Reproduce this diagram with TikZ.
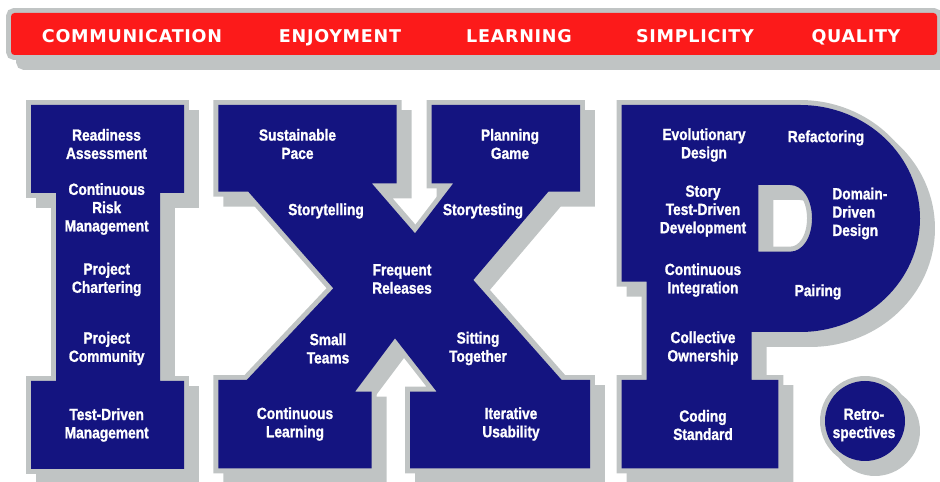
\documentclass[tikz,border=0pt]{standalone}
\usepackage{fontspec}
\newfontfamily\lblfont{Liberation Sans}[FakeStretch=0.85, BoldFeatures={FakeBold=1.2}]
\newfontfamily\banfont{DejaVu Sans}[LetterSpace=4]
\definecolor{xpnavy}{RGB}{20,20,128}
\definecolor{xpred}{RGB}{252,26,26}
\definecolor{xpgray}{RGB}{192,196,196}
\def\Ishape{(31,105) -- (184,105) -- (184,193) -- (160,193) -- (160,381) -- (184,381) -- (184,469) -- (31,469) -- (31,381) -- (56,381) -- (56,193) -- (31,193) -- cycle}
\def\Xshape{(218.3,105) -- (396.7,105) -- (396.7,183.3) -- (371.7,183.3) -- (415,233.3) -- (453.3,183.3) -- (431.7,183.3) -- (431.7,105) -- (580,105) -- (580,191.7) -- (548.3,191.7) -- (473.3,280) -- (561.7,380) -- (590,380) -- (590,468.3) -- (410,468.3) -- (410,391.7) -- (436.7,391.7) -- (395,338.3) -- (355,391.7) -- (371.7,391.7) -- (371.7,468.3) -- (218.3,468.3) -- (218.3,380) -- (246.7,380) -- (333.3,288.3) -- (248.3,191.7) -- (218.3,191.7) -- cycle}
\def\Pshape{(621.7,105) -- (800,105) .. controls (866.3,105) and (920,155.8) .. (920,218.5) .. controls (920,281.2) and (866.3,332) .. (800,332) -- (751.7,332) -- (751.7,380) -- (778.3,380) -- (778.3,468.3) -- (621.7,468.3) -- (621.7,380) -- (646.7,380) -- (646.7,281.7) -- (621.7,281.7) -- cycle
 (758.3,185) -- (790,185) .. controls (803,185) and (812,200) .. (812,218.3) .. controls (812,237) and (803,251.7) .. (790,251.7) -- (758.3,251.7) -- cycle}
\def\Dotshape{(865,421) circle[radius=40]}
\def\Banshape{(11,13) rectangle (937,55)}
\begin{document}
\begin{tikzpicture}[x=0.02cm,y=-0.02cm,
  shadowfill/.style={fill=xpgray, draw=xpgray, line width=5.67pt, shift={(10,10)}, even odd rule},
  outl/.style={draw=xpgray, line width=5.67pt},
  body/.style={fill=xpnavy, even odd rule},
  lbl/.style={text=white, font=\lblfont\bfseries\fontsize{9.2}{10.4}\selectfont, align=center, inner sep=0pt},
  ban/.style={text=white, font=\banfont\bfseries\fontsize{10}{12}\selectfont, inner sep=0pt, anchor=base}]
\useasboundingbox (0,0) rectangle (940,482);
\clip (0,0) rectangle (940,482);
% shadows
\path[shadowfill, rounded corners=2pt] \Banshape;
\path[shadowfill] \Ishape;
\path[shadowfill] \Xshape;
\path[shadowfill] \Pshape;
\path[shadowfill] \Dotshape;
% outlines
\path[outl, rounded corners=2pt] \Banshape;
\path[outl] \Ishape;
\path[outl] \Xshape;
\path[outl] \Pshape;
\path[outl] \Dotshape;
% bodies
\path[fill=xpred, rounded corners=2pt] \Banshape;
\path[body] \Ishape;
\path[body] \Xshape;
\path[body] \Pshape;
\path[body] \Dotshape;
% banner
\node[ban] (communication) at (132,42.5) {COMMUNICATION};
\node[ban] (enjoyment) at (340,42.5) {ENJOYMENT};
\node[ban] (learning) at (519,42.5) {LEARNING};
\node[ban] (simplicity) at (695,42.5) {SIMPLICITY};
\node[ban] (quality) at (856,42.5) {QUALITY};
% I
\node[lbl] (rdy) at (106.5,144) {Readiness\\Assessment};
\node[lbl] (crm) at (106.7,209) {Continuous\\Risk\\Management};
\node[lbl] (pch) at (106.7,279.5) {Project\\Chartering};
\node[lbl] (pcm) at (106.7,348.5) {Project\\Community};
\node[lbl] (tdm) at (106.7,425) {Test-Driven\\Management};
% X
\node[lbl] (sp) at (297.5,144) {Sustainable\\Pace};
\node[lbl] (pg) at (510,144) {Planning\\Game};
\node[lbl] (stl) at (326,211) {Storytelling};
\node[lbl] (sts) at (483,211) {Storytesting};
\node[lbl] (fr) at (402,279) {Frequent\\Releases};
\node[lbl] (smt) at (328,348.5) {Small\\Teams};
\node[lbl] (sit) at (478,348.5) {Sitting\\Together};
\node[lbl] (cl) at (295,424) {Continuous\\Learning};
\node[lbl] (iu) at (511,424) {Iterative\\Usability};
% P
\node[lbl] (ed) at (704,145) {Evolutionary\\Design};
\node[lbl] (ref) at (826,138) {Refactoring};
\node[lbl] (stdd) at (703,211) {Story\\Test-Driven\\Development};
\node[lbl, align=left, anchor=west] (ddd) at (832,213.5) {Domain-\\Driven\\Design};
\node[lbl] (ci) at (703,280) {Continuous\\Integration};
\node[lbl] (pair) at (818,292) {Pairing};
\node[lbl] (co) at (703,348) {Collective\\Ownership};
\node[lbl] (cs) at (703,425) {Coding\\Standard};
\node[lbl] (retro) at (864,425) {Retro-\\spectives};
\end{tikzpicture}
\end{document}
